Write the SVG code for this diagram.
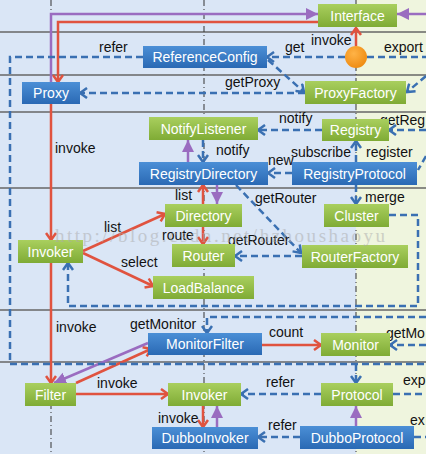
<svg xmlns="http://www.w3.org/2000/svg" width="426" height="454" viewBox="0 0 426 454">
<defs>
<linearGradient id="gG" x1="0" y1="0" x2="0" y2="1"><stop offset="0" stop-color="#a9cf5e"/><stop offset="1" stop-color="#7fab35"/></linearGradient>
<linearGradient id="gB" x1="0" y1="0" x2="0" y2="1"><stop offset="0" stop-color="#4b8fd6"/><stop offset="1" stop-color="#2a69b4"/></linearGradient>
<radialGradient id="gO" cx="0.4" cy="0.35" r="0.7"><stop offset="0" stop-color="#ffb347"/><stop offset="1" stop-color="#ee8a10"/></radialGradient>
<marker id="aR" markerUnits="userSpaceOnUse" markerWidth="12" markerHeight="12" refX="9" refY="6" orient="auto"><path d="M2,1 L9,6 L2,11" fill="none" stroke="#e0533f" stroke-width="2.5"/></marker>
<marker id="aB" markerUnits="userSpaceOnUse" markerWidth="12" markerHeight="12" refX="9" refY="6" orient="auto"><path d="M2,1 L9,6 L2,11" fill="none" stroke="#3a70b2" stroke-width="2.5"/></marker>
<marker id="aP" markerUnits="userSpaceOnUse" markerWidth="14" markerHeight="14" refX="12" refY="7" orient="auto"><path d="M0,1 L12,7 L0,13 Z" fill="#9a6cc0"/></marker>
</defs>
<style>
.g{fill:url(#gG)}
.b{fill:url(#gB)}
.nt{font-family:"Liberation Sans",Arial,sans-serif;font-size:14px;fill:#fff;text-anchor:middle}
.lb{font-family:"Liberation Sans",Arial,sans-serif;font-size:14px;fill:#111}
.hl{stroke:#666;stroke-width:1.5}
.vl{stroke:#333;stroke-width:1;stroke-dasharray:6 3 1 3}
.r{fill:none;stroke:#e0533f;stroke-width:2.5;marker-end:url(#aR)}
.p{fill:none;stroke:#9a6cc0;stroke-width:2.5;marker-end:url(#aP)}
.d{fill:none;stroke:#3a70b2;stroke-width:2.5;stroke-dasharray:7 4}
.da{fill:none;stroke:#3a70b2;stroke-width:2.5;stroke-dasharray:7 4;marker-end:url(#aB)}
.wm{font-family:"Liberation Serif",serif;font-size:19px;fill:#aaa;opacity:0.5}
</style>
<rect x="0" y="0" width="356" height="454" fill="#dae6f6"/>
<rect x="356" y="0" width="70" height="454" fill="#eff5de"/>
<g id="grid">
<line class="hl" x1="0" y1="32" x2="426" y2="32"/>
<line class="hl" x1="0" y1="75" x2="426" y2="75"/>
<line class="hl" x1="0" y1="112" x2="426" y2="112"/>
<line class="hl" x1="0" y1="188" x2="426" y2="188"/>
<line class="hl" x1="0" y1="310" x2="426" y2="310"/>
<line class="hl" x1="0" y1="362" x2="426" y2="362"/>
<line class="vl" x1="51" y1="0" x2="51" y2="454"/>
<line class="vl" x1="204" y1="0" x2="204" y2="454"/>
<line class="vl" x1="356" y1="0" x2="356" y2="454"/>
</g>
<g id="connectors">
<path class="r" d="M318,22 H58 V82"/>
<path class="r" d="M356,46 V28"/>
<path class="r" d="M51,104 V240"/>
<path class="r" d="M51,263 V383"/>
<path class="r" d="M83,251 L165,214"/>
<path class="r" d="M83,253 L153,286"/>
<path class="r" d="M203,204 V185"/>
<path class="r" d="M203,227 V244"/>
<path class="r" d="M262,345 H321"/>
<path class="r" d="M76,383 L151,349"/>
<path class="r" d="M76,394 H168"/>
<path class="r" d="M203,406 V427"/>
<path class="p" d="M51,82 V14 H318"/>
<path class="p" d="M426,14 H397"/>
<path class="p" d="M188,162 V140"/>
<path class="p" d="M217,185 V204"/>
<path class="p" d="M148,343 L54,383"/>
<path class="p" d="M217,427 V406"/>
<path class="p" d="M356,426 V406"/>
<path class="d" d="M143,57 H10 V364 H426"/>
<path class="da" d="M356,364 V383"/>
<path class="da" d="M345,57 H267"/>
<path class="d" d="M367,57 H426"/>
<path class="da" d="M268,60 L304,92"/>
<path class="da" d="M426,76 L407,92"/>
<path class="da" d="M305,93 H80"/>
<path class="da" d="M322,130 H258"/>
<path class="da" d="M426,130 H389"/>
<path class="da" d="M203,140 V162"/>
<path class="da" d="M292,173 H268"/>
<path class="da" d="M356,162 V141"/>
<path class="da" d="M356,185 V204"/>
<path class="d" d="M426,156 L418,170"/>
<path class="da" d="M236,185 L301,253"/>
<path class="da" d="M302,256 H235"/>
<path class="da" d="M389,215 H418 V306 H68 V263"/>
<path class="da" d="M426,317 H207 V333"/>
<path class="da" d="M426,345 H390"/>
<path class="da" d="M321,394 H241"/>
<path class="d" d="M393,394 H426"/>
<path class="da" d="M300,437 H258"/>
<path class="d" d="M414,437 H426"/>
</g>
<g id="labels">
<text class="lb" x="99" y="52">refer</text>
<text class="lb" x="285" y="52">get</text>
<text class="lb" x="311" y="45">invoke</text>
<text class="lb" x="384" y="52">export</text>
<text class="lb" x="225" y="87">getProxy</text>
<text class="lb" x="279" y="123">notify</text>
<text class="lb" x="380" y="125">getReg</text>
<text class="lb" x="216" y="155">notify</text>
<text class="lb" x="291" y="157">subscribe</text>
<text class="lb" x="366" y="157">register</text>
<text class="lb" x="268" y="165">new</text>
<text class="lb" x="55" y="153">invoke</text>
<text class="lb" x="175" y="200">list</text>
<text class="lb" x="255" y="203">getRouter</text>
<text class="lb" x="365" y="202">merge</text>
<text class="lb" x="104" y="232">list</text>
<text class="lb" x="162" y="240">route</text>
<text class="lb" x="228" y="245">getRouter</text>
<text class="lb" x="121" y="267">select</text>
<text class="lb" x="130" y="329">getMonitor</text>
<text class="lb" x="56" y="332">invoke</text>
<text class="lb" x="269" y="337">count</text>
<text class="lb" x="386" y="338">getMo</text>
<text class="lb" x="97" y="388">invoke</text>
<text class="lb" x="266" y="387">refer</text>
<text class="lb" x="403" y="385">exp</text>
<text class="lb" x="158" y="423">invoke</text>
<text class="lb" x="268" y="430">refer</text>
<text class="lb" x="410" y="425">ex</text>
</g>
<g id="invokeDot"><circle cx="356" cy="57" r="11" fill="url(#gO)"/></g>
<g id="Interface"><rect class="g" x="318" y="4" width="79" height="23"/><text class="nt" x="357.5" y="20.5">Interface</text></g>
<g id="ReferenceConfig"><rect class="b" x="143" y="46" width="124" height="22"/><text class="nt" x="205" y="62">ReferenceConfig</text></g>
<g id="Proxy"><rect class="b" x="22" y="82" width="58" height="22"/><text class="nt" x="51" y="98">Proxy</text></g>
<g id="ProxyFactory"><rect class="g" x="305" y="81" width="101" height="23"/><text class="nt" x="355.5" y="97.5">ProxyFactory</text></g>
<g id="NotifyListener"><rect class="g" x="149" y="117" width="109" height="23"/><text class="nt" x="203.5" y="133.5">NotifyListener</text></g>
<g id="Registry"><rect class="g" x="322" y="119" width="67" height="22"/><text class="nt" x="355.5" y="135">Registry</text></g>
<g id="RegistryDirectory"><rect class="b" x="139" y="162" width="129" height="23"/><text class="nt" x="203.5" y="178.5">RegistryDirectory</text></g>
<g id="RegistryProtocol"><rect class="b" x="292" y="162" width="125" height="23"/><text class="nt" x="354.5" y="178.5">RegistryProtocol</text></g>
<g id="Directory"><rect class="g" x="165" y="204" width="77" height="23"/><text class="nt" x="203.5" y="220.5">Directory</text></g>
<g id="Cluster"><rect class="g" x="324" y="204" width="65" height="23"/><text class="nt" x="356.5" y="220.5">Cluster</text></g>
<g id="Invoker1"><rect class="g" x="18" y="240" width="65" height="23"/><text class="nt" x="50.5" y="256.5">Invoker</text></g>
<g id="Router"><rect class="g" x="172" y="244" width="63" height="23"/><text class="nt" x="203.5" y="260.5">Router</text></g>
<g id="RouterFactory"><rect class="g" x="302" y="245" width="106" height="23"/><text class="nt" x="355" y="261.5">RouterFactory</text></g>
<g id="LoadBalance"><rect class="g" x="153" y="276" width="101" height="23"/><text class="nt" x="203.5" y="292.5">LoadBalance</text></g>
<g id="MonitorFilter"><rect class="b" x="148" y="333" width="114" height="22"/><text class="nt" x="205" y="349">MonitorFilter</text></g>
<g id="Monitor"><rect class="g" x="321" y="333" width="69" height="23"/><text class="nt" x="355.5" y="349.5">Monitor</text></g>
<g id="Filter"><rect class="g" x="25" y="383" width="51" height="23"/><text class="nt" x="50.5" y="399.5">Filter</text></g>
<g id="Invoker2"><rect class="g" x="168" y="383" width="73" height="23"/><text class="nt" x="204.5" y="399.5">Invoker</text></g>
<g id="Protocol"><rect class="g" x="321" y="383" width="72" height="23"/><text class="nt" x="357" y="399.5">Protocol</text></g>
<g id="DubboInvoker"><rect class="b" x="152" y="427" width="106" height="22"/><text class="nt" x="205" y="443">DubboInvoker</text></g>
<g id="DubboProtocol"><rect class="b" x="300" y="426" width="114" height="23"/><text class="nt" x="357" y="442.5">DubboProtocol</text></g>
<text class="wm" x="55" y="242" textLength="330" lengthAdjust="spacing">http://blog.csdn.net/hzhoushaoyu</text>
</svg>
